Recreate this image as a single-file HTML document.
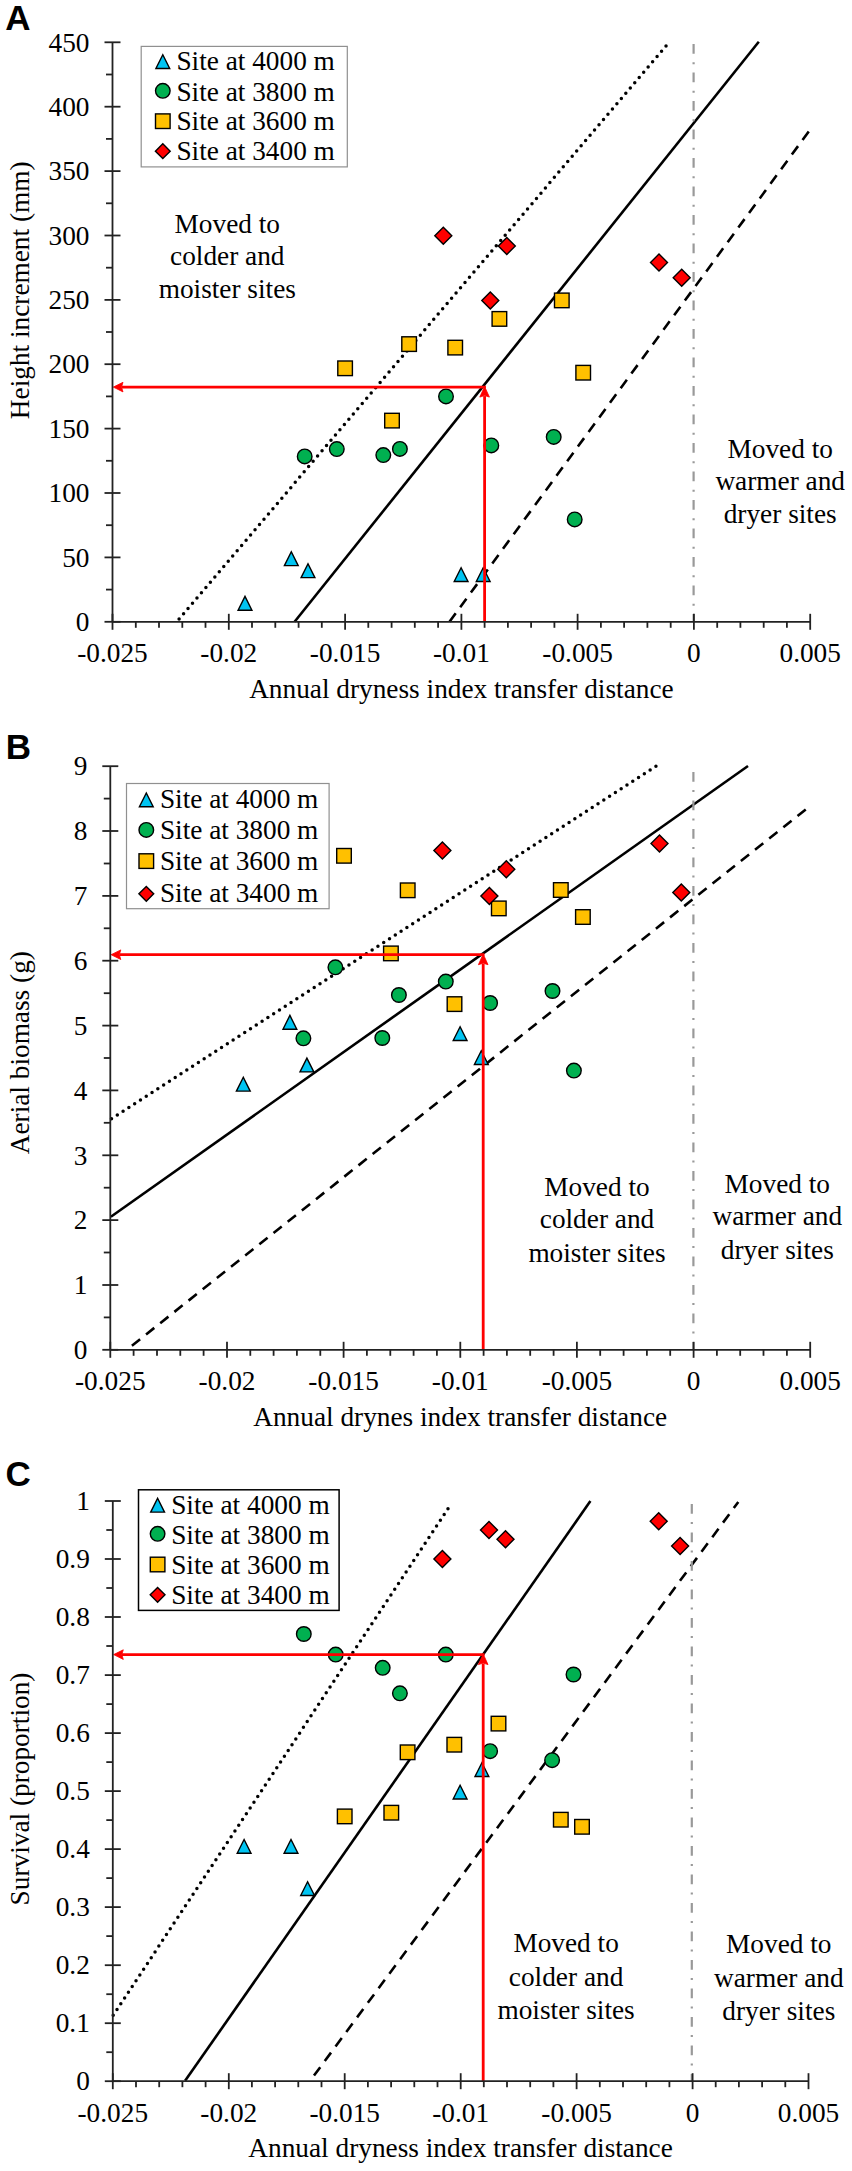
<!DOCTYPE html>
<html><head><meta charset="utf-8"><title>Figure</title>
<style>html,body{margin:0;padding:0;background:#fff;} svg{display:block;} text{fill:#000;}</style>
</head><body>
<svg width="852" height="2171" viewBox="0 0 852 2171"><line x1="179.1" y1="619.1" x2="669.5" y2="41.8" stroke="#000" stroke-width="3.5" stroke-linecap="round" stroke-dasharray="0 6.9"/>
<line x1="294.6" y1="621.8" x2="758.8" y2="41.8" stroke="#000" stroke-width="2.6"/>
<line x1="449.5" y1="621.8" x2="809.5" y2="130.5" stroke="#000" stroke-width="2.6" stroke-dasharray="10.5 7.6"/>
<line x1="693.6" y1="44.1" x2="693.6" y2="621.8" stroke="#999" stroke-width="2.2" stroke-dasharray="9.7 8.4 2 8.4"/>
<path d="M245.0,596.4 L251.9,610.2 L238.1,610.2 Z" fill="#00C4F2" stroke="#000" stroke-width="1.4"/>
<path d="M291.3,551.8 L298.2,565.6 L284.4,565.6 Z" fill="#00C4F2" stroke="#000" stroke-width="1.4"/>
<path d="M308.0,563.8 L314.9,577.6 L301.1,577.6 Z" fill="#00C4F2" stroke="#000" stroke-width="1.4"/>
<path d="M461.1,567.7 L468.0,581.5 L454.2,581.5 Z" fill="#00C4F2" stroke="#000" stroke-width="1.4"/>
<path d="M483.2,567.7 L490.1,581.5 L476.3,581.5 Z" fill="#00C4F2" stroke="#000" stroke-width="1.4"/>
<circle cx="304.7" cy="456.4" r="7.3" fill="#00B050" stroke="#000" stroke-width="1.4"/>
<circle cx="336.8" cy="449.1" r="7.3" fill="#00B050" stroke="#000" stroke-width="1.4"/>
<circle cx="383.3" cy="455.1" r="7.3" fill="#00B050" stroke="#000" stroke-width="1.4"/>
<circle cx="399.9" cy="448.9" r="7.3" fill="#00B050" stroke="#000" stroke-width="1.4"/>
<circle cx="446.0" cy="396.4" r="7.3" fill="#00B050" stroke="#000" stroke-width="1.4"/>
<circle cx="491.3" cy="445.4" r="7.3" fill="#00B050" stroke="#000" stroke-width="1.4"/>
<circle cx="553.7" cy="436.9" r="7.3" fill="#00B050" stroke="#000" stroke-width="1.4"/>
<circle cx="574.7" cy="519.4" r="7.3" fill="#00B050" stroke="#000" stroke-width="1.4"/>
<rect x="337.8" y="361.0" width="14.6" height="14.6" fill="#FFC000" stroke="#000" stroke-width="1.4"/>
<rect x="384.7" y="413.3" width="14.6" height="14.6" fill="#FFC000" stroke="#000" stroke-width="1.4"/>
<rect x="401.8" y="336.8" width="14.6" height="14.6" fill="#FFC000" stroke="#000" stroke-width="1.4"/>
<rect x="447.9" y="340.3" width="14.6" height="14.6" fill="#FFC000" stroke="#000" stroke-width="1.4"/>
<rect x="492.1" y="311.6" width="14.6" height="14.6" fill="#FFC000" stroke="#000" stroke-width="1.4"/>
<rect x="554.5" y="293.1" width="14.6" height="14.6" fill="#FFC000" stroke="#000" stroke-width="1.4"/>
<rect x="575.9" y="365.4" width="14.6" height="14.6" fill="#FFC000" stroke="#000" stroke-width="1.4"/>
<path d="M443.3,227.2 L451.8,235.7 L443.3,244.2 L434.8,235.7 Z" fill="#FF0000" stroke="#000" stroke-width="1.4"/>
<path d="M490.3,291.9 L498.8,300.4 L490.3,308.9 L481.8,300.4 Z" fill="#FF0000" stroke="#000" stroke-width="1.4"/>
<path d="M506.8,237.5 L515.3,246.0 L506.8,254.5 L498.3,246.0 Z" fill="#FF0000" stroke="#000" stroke-width="1.4"/>
<path d="M659.0,254.0 L667.5,262.5 L659.0,271.0 L650.5,262.5 Z" fill="#FF0000" stroke="#000" stroke-width="1.4"/>
<path d="M681.7,269.2 L690.2,277.7 L681.7,286.2 L673.2,277.7 Z" fill="#FF0000" stroke="#000" stroke-width="1.4"/>
<line x1="121.5" y1="387.1" x2="485.90000000000003" y2="387.1" stroke="#FF0000" stroke-width="2.8"/>
<path d="M113.3,387.1 L123.0,382.3 L121.5,387.1 L123.0,391.90000000000003 Z" fill="#FF0000" stroke="#FF0000" stroke-width="0.8"/>
<line x1="484.6" y1="621.8" x2="484.6" y2="396.1" stroke="#FF0000" stroke-width="2.8"/>
<path d="M484.6,386.5 L489.40000000000003,397.1 L484.6,395.6 L479.8,397.1 Z" fill="#FF0000" stroke="#FF0000" stroke-width="0.8"/>
<line x1="112.5" y1="42.3" x2="112.5" y2="621.8" stroke="#222" stroke-width="1.8"/>
<line x1="112.5" y1="621.8" x2="810.2" y2="621.8" stroke="#222" stroke-width="1.8"/>
<line x1="104.5" y1="621.8" x2="120.5" y2="621.8" stroke="#222" stroke-width="1.8"/>
<text x="89.5" y="631.0" font-family='"Liberation Serif", serif' font-size="27.3" font-weight="normal" text-anchor="end" >0</text>
<line x1="106.0" y1="589.6" x2="112.5" y2="589.6" stroke="#222" stroke-width="1.8"/>
<line x1="104.5" y1="557.4" x2="120.5" y2="557.4" stroke="#222" stroke-width="1.8"/>
<text x="89.5" y="566.6" font-family='"Liberation Serif", serif' font-size="27.3" font-weight="normal" text-anchor="end" >50</text>
<line x1="106.0" y1="525.2" x2="112.5" y2="525.2" stroke="#222" stroke-width="1.8"/>
<line x1="104.5" y1="493.0" x2="120.5" y2="493.0" stroke="#222" stroke-width="1.8"/>
<text x="89.5" y="502.2" font-family='"Liberation Serif", serif' font-size="27.3" font-weight="normal" text-anchor="end" >100</text>
<line x1="106.0" y1="460.8" x2="112.5" y2="460.8" stroke="#222" stroke-width="1.8"/>
<line x1="104.5" y1="428.6" x2="120.5" y2="428.6" stroke="#222" stroke-width="1.8"/>
<text x="89.5" y="437.8" font-family='"Liberation Serif", serif' font-size="27.3" font-weight="normal" text-anchor="end" >150</text>
<line x1="106.0" y1="396.4" x2="112.5" y2="396.4" stroke="#222" stroke-width="1.8"/>
<line x1="104.5" y1="364.2" x2="120.5" y2="364.2" stroke="#222" stroke-width="1.8"/>
<text x="89.5" y="373.4" font-family='"Liberation Serif", serif' font-size="27.3" font-weight="normal" text-anchor="end" >200</text>
<line x1="106.0" y1="332.0" x2="112.5" y2="332.0" stroke="#222" stroke-width="1.8"/>
<line x1="104.5" y1="299.9" x2="120.5" y2="299.9" stroke="#222" stroke-width="1.8"/>
<text x="89.5" y="309.1" font-family='"Liberation Serif", serif' font-size="27.3" font-weight="normal" text-anchor="end" >250</text>
<line x1="106.0" y1="267.7" x2="112.5" y2="267.7" stroke="#222" stroke-width="1.8"/>
<line x1="104.5" y1="235.5" x2="120.5" y2="235.5" stroke="#222" stroke-width="1.8"/>
<text x="89.5" y="244.7" font-family='"Liberation Serif", serif' font-size="27.3" font-weight="normal" text-anchor="end" >300</text>
<line x1="106.0" y1="203.3" x2="112.5" y2="203.3" stroke="#222" stroke-width="1.8"/>
<line x1="104.5" y1="171.1" x2="120.5" y2="171.1" stroke="#222" stroke-width="1.8"/>
<text x="89.5" y="180.3" font-family='"Liberation Serif", serif' font-size="27.3" font-weight="normal" text-anchor="end" >350</text>
<line x1="106.0" y1="138.9" x2="112.5" y2="138.9" stroke="#222" stroke-width="1.8"/>
<line x1="104.5" y1="106.7" x2="120.5" y2="106.7" stroke="#222" stroke-width="1.8"/>
<text x="89.5" y="115.9" font-family='"Liberation Serif", serif' font-size="27.3" font-weight="normal" text-anchor="end" >400</text>
<line x1="106.0" y1="74.5" x2="112.5" y2="74.5" stroke="#222" stroke-width="1.8"/>
<line x1="104.5" y1="42.3" x2="120.5" y2="42.3" stroke="#222" stroke-width="1.8"/>
<text x="89.5" y="51.5" font-family='"Liberation Serif", serif' font-size="27.3" font-weight="normal" text-anchor="end" >450</text>
<line x1="112.5" y1="613.8" x2="112.5" y2="629.8" stroke="#222" stroke-width="1.8"/>
<text x="112.5" y="662.3" font-family='"Liberation Serif", serif' font-size="27.3" font-weight="normal" text-anchor="middle" >-0.025</text>
<line x1="135.8" y1="621.8" x2="135.8" y2="627.8" stroke="#222" stroke-width="1.8"/>
<line x1="159.0" y1="621.8" x2="159.0" y2="627.8" stroke="#222" stroke-width="1.8"/>
<line x1="182.3" y1="621.8" x2="182.3" y2="627.8" stroke="#222" stroke-width="1.8"/>
<line x1="205.5" y1="621.8" x2="205.5" y2="627.8" stroke="#222" stroke-width="1.8"/>
<line x1="228.8" y1="613.8" x2="228.8" y2="629.8" stroke="#222" stroke-width="1.8"/>
<text x="228.8" y="662.3" font-family='"Liberation Serif", serif' font-size="27.3" font-weight="normal" text-anchor="middle" >-0.02</text>
<line x1="252.0" y1="621.8" x2="252.0" y2="627.8" stroke="#222" stroke-width="1.8"/>
<line x1="275.3" y1="621.8" x2="275.3" y2="627.8" stroke="#222" stroke-width="1.8"/>
<line x1="298.6" y1="621.8" x2="298.6" y2="627.8" stroke="#222" stroke-width="1.8"/>
<line x1="321.8" y1="621.8" x2="321.8" y2="627.8" stroke="#222" stroke-width="1.8"/>
<line x1="345.1" y1="613.8" x2="345.1" y2="629.8" stroke="#222" stroke-width="1.8"/>
<text x="345.1" y="662.3" font-family='"Liberation Serif", serif' font-size="27.3" font-weight="normal" text-anchor="middle" >-0.015</text>
<line x1="368.3" y1="621.8" x2="368.3" y2="627.8" stroke="#222" stroke-width="1.8"/>
<line x1="391.6" y1="621.8" x2="391.6" y2="627.8" stroke="#222" stroke-width="1.8"/>
<line x1="414.8" y1="621.8" x2="414.8" y2="627.8" stroke="#222" stroke-width="1.8"/>
<line x1="438.1" y1="621.8" x2="438.1" y2="627.8" stroke="#222" stroke-width="1.8"/>
<line x1="461.4" y1="613.8" x2="461.4" y2="629.8" stroke="#222" stroke-width="1.8"/>
<text x="461.4" y="662.3" font-family='"Liberation Serif", serif' font-size="27.3" font-weight="normal" text-anchor="middle" >-0.01</text>
<line x1="484.6" y1="621.8" x2="484.6" y2="627.8" stroke="#222" stroke-width="1.8"/>
<line x1="507.9" y1="621.8" x2="507.9" y2="627.8" stroke="#222" stroke-width="1.8"/>
<line x1="531.1" y1="621.8" x2="531.1" y2="627.8" stroke="#222" stroke-width="1.8"/>
<line x1="554.4" y1="621.8" x2="554.4" y2="627.8" stroke="#222" stroke-width="1.8"/>
<line x1="577.6" y1="613.8" x2="577.6" y2="629.8" stroke="#222" stroke-width="1.8"/>
<text x="577.6" y="662.3" font-family='"Liberation Serif", serif' font-size="27.3" font-weight="normal" text-anchor="middle" >-0.005</text>
<line x1="600.9" y1="621.8" x2="600.9" y2="627.8" stroke="#222" stroke-width="1.8"/>
<line x1="624.1" y1="621.8" x2="624.1" y2="627.8" stroke="#222" stroke-width="1.8"/>
<line x1="647.4" y1="621.8" x2="647.4" y2="627.8" stroke="#222" stroke-width="1.8"/>
<line x1="670.7" y1="621.8" x2="670.7" y2="627.8" stroke="#222" stroke-width="1.8"/>
<line x1="693.9" y1="613.8" x2="693.9" y2="629.8" stroke="#222" stroke-width="1.8"/>
<text x="693.9" y="662.3" font-family='"Liberation Serif", serif' font-size="27.3" font-weight="normal" text-anchor="middle" >0</text>
<line x1="717.2" y1="621.8" x2="717.2" y2="627.8" stroke="#222" stroke-width="1.8"/>
<line x1="740.4" y1="621.8" x2="740.4" y2="627.8" stroke="#222" stroke-width="1.8"/>
<line x1="763.7" y1="621.8" x2="763.7" y2="627.8" stroke="#222" stroke-width="1.8"/>
<line x1="786.9" y1="621.8" x2="786.9" y2="627.8" stroke="#222" stroke-width="1.8"/>
<line x1="810.2" y1="613.8" x2="810.2" y2="629.8" stroke="#222" stroke-width="1.8"/>
<text x="810.2" y="662.3" font-family='"Liberation Serif", serif' font-size="27.3" font-weight="normal" text-anchor="middle" >0.005</text>
<text x="461.4" y="697.8" font-family='"Liberation Serif", serif' font-size="27.3" font-weight="normal" text-anchor="middle" >Annual dryness index transfer distance</text>
<text x="0" y="0" transform="translate(29.2,290.3) rotate(-90)" font-family='"Liberation Serif", serif' font-size="27.3" text-anchor="middle">Height increment (mm)</text>
<text x="5.2" y="29.8" font-family='"Liberation Sans", sans-serif' font-size="35" font-weight="bold" text-anchor="start" >A</text>
<rect x="141.2" y="46.4" width="206.10000000000002" height="120.5" fill="#fff" stroke="#909090" stroke-width="1.2"/>
<path d="M162.8,54.7 L169.7,68.5 L155.9,68.5 Z" fill="#00C4F2" stroke="#000" stroke-width="1.4"/>
<text x="176.4" y="70.4" font-family='"Liberation Serif", serif' font-size="27.3" font-weight="normal" text-anchor="start" >Site at 4000 m</text>
<circle cx="162.8" cy="90.8" r="7.3" fill="#00B050" stroke="#000" stroke-width="1.4"/>
<text x="176.4" y="100.9" font-family='"Liberation Serif", serif' font-size="27.3" font-weight="normal" text-anchor="start" >Site at 3800 m</text>
<rect x="155.5" y="113.9" width="14.6" height="14.6" fill="#FFC000" stroke="#000" stroke-width="1.4"/>
<text x="176.4" y="130.4" font-family='"Liberation Serif", serif' font-size="27.3" font-weight="normal" text-anchor="start" >Site at 3600 m</text>
<path d="M162.8,143.8 L170.2,151.2 L162.8,158.6 L155.4,151.2 Z" fill="#FF0000" stroke="#000" stroke-width="1.4"/>
<text x="176.4" y="159.9" font-family='"Liberation Serif", serif' font-size="27.3" font-weight="normal" text-anchor="start" >Site at 3400 m</text>
<text x="227.3" y="232.6" font-family='"Liberation Serif", serif' font-size="27.3" font-weight="normal" text-anchor="middle" >Moved to</text>
<text x="227.3" y="264.8" font-family='"Liberation Serif", serif' font-size="27.3" font-weight="normal" text-anchor="middle" >colder and</text>
<text x="227.3" y="298.2" font-family='"Liberation Serif", serif' font-size="27.3" font-weight="normal" text-anchor="middle" >moister sites</text>
<text x="780.2" y="457.7" font-family='"Liberation Serif", serif' font-size="27.3" font-weight="normal" text-anchor="middle" >Moved to</text>
<text x="780.2" y="489.8" font-family='"Liberation Serif", serif' font-size="27.3" font-weight="normal" text-anchor="middle" >warmer and</text>
<text x="780.2" y="523.4" font-family='"Liberation Serif", serif' font-size="27.3" font-weight="normal" text-anchor="middle" >dryer sites</text>
<line x1="111.5" y1="1118.7" x2="656.8" y2="765.6" stroke="#000" stroke-width="3.5" stroke-linecap="round" stroke-dasharray="0 6.9"/>
<line x1="110.9" y1="1216.7" x2="748" y2="766" stroke="#000" stroke-width="2.6"/>
<line x1="131.9" y1="1345.7" x2="811.4" y2="804.9" stroke="#000" stroke-width="2.6" stroke-dasharray="10.5 7.6"/>
<line x1="693.4" y1="772" x2="693.4" y2="1349.8" stroke="#999" stroke-width="2.2" stroke-dasharray="9.7 8.4 2 8.4"/>
<path d="M243.3,1077.3 L250.2,1091.1 L236.4,1091.1 Z" fill="#00C4F2" stroke="#000" stroke-width="1.4"/>
<path d="M289.9,1015.4 L296.8,1029.2 L283.0,1029.2 Z" fill="#00C4F2" stroke="#000" stroke-width="1.4"/>
<path d="M306.9,1058.1 L313.8,1071.9 L300.0,1071.9 Z" fill="#00C4F2" stroke="#000" stroke-width="1.4"/>
<path d="M460.1,1026.7 L467.0,1040.5 L453.2,1040.5 Z" fill="#00C4F2" stroke="#000" stroke-width="1.4"/>
<path d="M481.3,1050.7 L488.2,1064.5 L474.4,1064.5 Z" fill="#00C4F2" stroke="#000" stroke-width="1.4"/>
<circle cx="303.4" cy="1038.3" r="7.3" fill="#00B050" stroke="#000" stroke-width="1.4"/>
<circle cx="335.4" cy="967.3" r="7.3" fill="#00B050" stroke="#000" stroke-width="1.4"/>
<circle cx="382.3" cy="1038.0" r="7.3" fill="#00B050" stroke="#000" stroke-width="1.4"/>
<circle cx="398.9" cy="995.0" r="7.3" fill="#00B050" stroke="#000" stroke-width="1.4"/>
<circle cx="445.8" cy="981.6" r="7.3" fill="#00B050" stroke="#000" stroke-width="1.4"/>
<circle cx="490.1" cy="1003.0" r="7.3" fill="#00B050" stroke="#000" stroke-width="1.4"/>
<circle cx="552.5" cy="991.0" r="7.3" fill="#00B050" stroke="#000" stroke-width="1.4"/>
<circle cx="573.9" cy="1070.6" r="7.3" fill="#00B050" stroke="#000" stroke-width="1.4"/>
<rect x="336.7" y="848.5" width="14.6" height="14.6" fill="#FFC000" stroke="#000" stroke-width="1.4"/>
<rect x="383.6" y="946.1" width="14.6" height="14.6" fill="#FFC000" stroke="#000" stroke-width="1.4"/>
<rect x="400.4" y="883.0" width="14.6" height="14.6" fill="#FFC000" stroke="#000" stroke-width="1.4"/>
<rect x="447.2" y="996.8" width="14.6" height="14.6" fill="#FFC000" stroke="#000" stroke-width="1.4"/>
<rect x="491.5" y="901.1" width="14.6" height="14.6" fill="#FFC000" stroke="#000" stroke-width="1.4"/>
<rect x="553.5" y="882.7" width="14.6" height="14.6" fill="#FFC000" stroke="#000" stroke-width="1.4"/>
<rect x="575.6" y="909.7" width="14.6" height="14.6" fill="#FFC000" stroke="#000" stroke-width="1.4"/>
<path d="M442.4,842.0 L450.9,850.5 L442.4,859.0 L433.9,850.5 Z" fill="#FF0000" stroke="#000" stroke-width="1.4"/>
<path d="M489.4,887.5 L497.9,896.0 L489.4,904.5 L480.9,896.0 Z" fill="#FF0000" stroke="#000" stroke-width="1.4"/>
<path d="M506.3,860.8 L514.8,869.3 L506.3,877.8 L497.8,869.3 Z" fill="#FF0000" stroke="#000" stroke-width="1.4"/>
<path d="M659.5,835.0 L668.0,843.5 L659.5,852.0 L651.0,843.5 Z" fill="#FF0000" stroke="#000" stroke-width="1.4"/>
<path d="M681.3,884.1 L689.8,892.6 L681.3,901.1 L672.8,892.6 Z" fill="#FF0000" stroke="#000" stroke-width="1.4"/>
<line x1="119.3" y1="954.7" x2="484.5" y2="954.7" stroke="#FF0000" stroke-width="2.8"/>
<path d="M111.1,954.7 L120.8,949.9000000000001 L119.3,954.7 L120.8,959.5 Z" fill="#FF0000" stroke="#FF0000" stroke-width="0.8"/>
<line x1="483.2" y1="1349.8" x2="483.2" y2="963.7" stroke="#FF0000" stroke-width="2.8"/>
<path d="M483.2,954.1 L488.0,964.7 L483.2,963.2 L478.4,964.7 Z" fill="#FF0000" stroke="#FF0000" stroke-width="0.8"/>
<line x1="110.3" y1="766.2" x2="110.3" y2="1349.8" stroke="#222" stroke-width="1.8"/>
<line x1="110.3" y1="1349.8" x2="810.2" y2="1349.8" stroke="#222" stroke-width="1.8"/>
<line x1="102.3" y1="1349.8" x2="118.3" y2="1349.8" stroke="#222" stroke-width="1.8"/>
<text x="87.3" y="1359.0" font-family='"Liberation Serif", serif' font-size="27.3" font-weight="normal" text-anchor="end" >0</text>
<line x1="103.8" y1="1317.4" x2="110.3" y2="1317.4" stroke="#222" stroke-width="1.8"/>
<line x1="102.3" y1="1285.0" x2="118.3" y2="1285.0" stroke="#222" stroke-width="1.8"/>
<text x="87.3" y="1294.2" font-family='"Liberation Serif", serif' font-size="27.3" font-weight="normal" text-anchor="end" >1</text>
<line x1="103.8" y1="1252.5" x2="110.3" y2="1252.5" stroke="#222" stroke-width="1.8"/>
<line x1="102.3" y1="1220.1" x2="118.3" y2="1220.1" stroke="#222" stroke-width="1.8"/>
<text x="87.3" y="1229.3" font-family='"Liberation Serif", serif' font-size="27.3" font-weight="normal" text-anchor="end" >2</text>
<line x1="103.8" y1="1187.7" x2="110.3" y2="1187.7" stroke="#222" stroke-width="1.8"/>
<line x1="102.3" y1="1155.3" x2="118.3" y2="1155.3" stroke="#222" stroke-width="1.8"/>
<text x="87.3" y="1164.5" font-family='"Liberation Serif", serif' font-size="27.3" font-weight="normal" text-anchor="end" >3</text>
<line x1="103.8" y1="1122.8" x2="110.3" y2="1122.8" stroke="#222" stroke-width="1.8"/>
<line x1="102.3" y1="1090.4" x2="118.3" y2="1090.4" stroke="#222" stroke-width="1.8"/>
<text x="87.3" y="1099.6" font-family='"Liberation Serif", serif' font-size="27.3" font-weight="normal" text-anchor="end" >4</text>
<line x1="103.8" y1="1058.0" x2="110.3" y2="1058.0" stroke="#222" stroke-width="1.8"/>
<line x1="102.3" y1="1025.6" x2="118.3" y2="1025.6" stroke="#222" stroke-width="1.8"/>
<text x="87.3" y="1034.8" font-family='"Liberation Serif", serif' font-size="27.3" font-weight="normal" text-anchor="end" >5</text>
<line x1="103.8" y1="993.2" x2="110.3" y2="993.2" stroke="#222" stroke-width="1.8"/>
<line x1="102.3" y1="960.7" x2="118.3" y2="960.7" stroke="#222" stroke-width="1.8"/>
<text x="87.3" y="969.9" font-family='"Liberation Serif", serif' font-size="27.3" font-weight="normal" text-anchor="end" >6</text>
<line x1="103.8" y1="928.3" x2="110.3" y2="928.3" stroke="#222" stroke-width="1.8"/>
<line x1="102.3" y1="895.9" x2="118.3" y2="895.9" stroke="#222" stroke-width="1.8"/>
<text x="87.3" y="905.1" font-family='"Liberation Serif", serif' font-size="27.3" font-weight="normal" text-anchor="end" >7</text>
<line x1="103.8" y1="863.5" x2="110.3" y2="863.5" stroke="#222" stroke-width="1.8"/>
<line x1="102.3" y1="831.0" x2="118.3" y2="831.0" stroke="#222" stroke-width="1.8"/>
<text x="87.3" y="840.2" font-family='"Liberation Serif", serif' font-size="27.3" font-weight="normal" text-anchor="end" >8</text>
<line x1="103.8" y1="798.6" x2="110.3" y2="798.6" stroke="#222" stroke-width="1.8"/>
<line x1="102.3" y1="766.2" x2="118.3" y2="766.2" stroke="#222" stroke-width="1.8"/>
<text x="87.3" y="775.4" font-family='"Liberation Serif", serif' font-size="27.3" font-weight="normal" text-anchor="end" >9</text>
<line x1="110.3" y1="1341.8" x2="110.3" y2="1357.8" stroke="#222" stroke-width="1.8"/>
<text x="110.3" y="1390.3" font-family='"Liberation Serif", serif' font-size="27.3" font-weight="normal" text-anchor="middle" >-0.025</text>
<line x1="133.6" y1="1349.8" x2="133.6" y2="1355.8" stroke="#222" stroke-width="1.8"/>
<line x1="157.0" y1="1349.8" x2="157.0" y2="1355.8" stroke="#222" stroke-width="1.8"/>
<line x1="180.3" y1="1349.8" x2="180.3" y2="1355.8" stroke="#222" stroke-width="1.8"/>
<line x1="203.6" y1="1349.8" x2="203.6" y2="1355.8" stroke="#222" stroke-width="1.8"/>
<line x1="227.0" y1="1341.8" x2="227.0" y2="1357.8" stroke="#222" stroke-width="1.8"/>
<text x="227.0" y="1390.3" font-family='"Liberation Serif", serif' font-size="27.3" font-weight="normal" text-anchor="middle" >-0.02</text>
<line x1="250.3" y1="1349.8" x2="250.3" y2="1355.8" stroke="#222" stroke-width="1.8"/>
<line x1="273.6" y1="1349.8" x2="273.6" y2="1355.8" stroke="#222" stroke-width="1.8"/>
<line x1="296.9" y1="1349.8" x2="296.9" y2="1355.8" stroke="#222" stroke-width="1.8"/>
<line x1="320.3" y1="1349.8" x2="320.3" y2="1355.8" stroke="#222" stroke-width="1.8"/>
<line x1="343.6" y1="1341.8" x2="343.6" y2="1357.8" stroke="#222" stroke-width="1.8"/>
<text x="343.6" y="1390.3" font-family='"Liberation Serif", serif' font-size="27.3" font-weight="normal" text-anchor="middle" >-0.015</text>
<line x1="366.9" y1="1349.8" x2="366.9" y2="1355.8" stroke="#222" stroke-width="1.8"/>
<line x1="390.3" y1="1349.8" x2="390.3" y2="1355.8" stroke="#222" stroke-width="1.8"/>
<line x1="413.6" y1="1349.8" x2="413.6" y2="1355.8" stroke="#222" stroke-width="1.8"/>
<line x1="436.9" y1="1349.8" x2="436.9" y2="1355.8" stroke="#222" stroke-width="1.8"/>
<line x1="460.3" y1="1341.8" x2="460.3" y2="1357.8" stroke="#222" stroke-width="1.8"/>
<text x="460.3" y="1390.3" font-family='"Liberation Serif", serif' font-size="27.3" font-weight="normal" text-anchor="middle" >-0.01</text>
<line x1="483.6" y1="1349.8" x2="483.6" y2="1355.8" stroke="#222" stroke-width="1.8"/>
<line x1="506.9" y1="1349.8" x2="506.9" y2="1355.8" stroke="#222" stroke-width="1.8"/>
<line x1="530.2" y1="1349.8" x2="530.2" y2="1355.8" stroke="#222" stroke-width="1.8"/>
<line x1="553.6" y1="1349.8" x2="553.6" y2="1355.8" stroke="#222" stroke-width="1.8"/>
<line x1="576.9" y1="1341.8" x2="576.9" y2="1357.8" stroke="#222" stroke-width="1.8"/>
<text x="576.9" y="1390.3" font-family='"Liberation Serif", serif' font-size="27.3" font-weight="normal" text-anchor="middle" >-0.005</text>
<line x1="600.2" y1="1349.8" x2="600.2" y2="1355.8" stroke="#222" stroke-width="1.8"/>
<line x1="623.6" y1="1349.8" x2="623.6" y2="1355.8" stroke="#222" stroke-width="1.8"/>
<line x1="646.9" y1="1349.8" x2="646.9" y2="1355.8" stroke="#222" stroke-width="1.8"/>
<line x1="670.2" y1="1349.8" x2="670.2" y2="1355.8" stroke="#222" stroke-width="1.8"/>
<line x1="693.6" y1="1341.8" x2="693.6" y2="1357.8" stroke="#222" stroke-width="1.8"/>
<text x="693.6" y="1390.3" font-family='"Liberation Serif", serif' font-size="27.3" font-weight="normal" text-anchor="middle" >0</text>
<line x1="716.9" y1="1349.8" x2="716.9" y2="1355.8" stroke="#222" stroke-width="1.8"/>
<line x1="740.2" y1="1349.8" x2="740.2" y2="1355.8" stroke="#222" stroke-width="1.8"/>
<line x1="763.5" y1="1349.8" x2="763.5" y2="1355.8" stroke="#222" stroke-width="1.8"/>
<line x1="786.9" y1="1349.8" x2="786.9" y2="1355.8" stroke="#222" stroke-width="1.8"/>
<line x1="810.2" y1="1341.8" x2="810.2" y2="1357.8" stroke="#222" stroke-width="1.8"/>
<text x="810.2" y="1390.3" font-family='"Liberation Serif", serif' font-size="27.3" font-weight="normal" text-anchor="middle" >0.005</text>
<text x="460.2" y="1425.8" font-family='"Liberation Serif", serif' font-size="27.3" font-weight="normal" text-anchor="middle" >Annual drynes index transfer distance</text>
<text x="0" y="0" transform="translate(29.3,1052.7) rotate(-90)" font-family='"Liberation Serif", serif' font-size="27.3" text-anchor="middle">Aerial biomass (g)</text>
<text x="5.8" y="758.7" font-family='"Liberation Sans", sans-serif' font-size="35" font-weight="bold" text-anchor="start" >B</text>
<rect x="126.5" y="783.5" width="202.60000000000002" height="125.20000000000005" fill="#fff" stroke="#909090" stroke-width="1.2"/>
<path d="M146.3,793.0 L153.2,806.8 L139.4,806.8 Z" fill="#00C4F2" stroke="#000" stroke-width="1.4"/>
<text x="159.9" y="808.0" font-family='"Liberation Serif", serif' font-size="27.3" font-weight="normal" text-anchor="start" >Site at 4000 m</text>
<circle cx="146.3" cy="829.9" r="7.3" fill="#00B050" stroke="#000" stroke-width="1.4"/>
<text x="159.9" y="839.2" font-family='"Liberation Serif", serif' font-size="27.3" font-weight="normal" text-anchor="start" >Site at 3800 m</text>
<rect x="139.0" y="853.8" width="14.6" height="14.6" fill="#FFC000" stroke="#000" stroke-width="1.4"/>
<text x="159.9" y="870.4" font-family='"Liberation Serif", serif' font-size="27.3" font-weight="normal" text-anchor="start" >Site at 3600 m</text>
<path d="M146.3,886.4 L153.7,893.8 L146.3,901.2 L138.9,893.8 Z" fill="#FF0000" stroke="#000" stroke-width="1.4"/>
<text x="159.9" y="901.6" font-family='"Liberation Serif", serif' font-size="27.3" font-weight="normal" text-anchor="start" >Site at 3400 m</text>
<text x="597.0" y="1195.9" font-family='"Liberation Serif", serif' font-size="27.3" font-weight="normal" text-anchor="middle" >Moved to</text>
<text x="597.0" y="1228.4" font-family='"Liberation Serif", serif' font-size="27.3" font-weight="normal" text-anchor="middle" >colder and</text>
<text x="597.0" y="1261.8" font-family='"Liberation Serif", serif' font-size="27.3" font-weight="normal" text-anchor="middle" >moister sites</text>
<text x="777.3" y="1193.0" font-family='"Liberation Serif", serif' font-size="27.3" font-weight="normal" text-anchor="middle" >Moved to</text>
<text x="777.3" y="1225.3" font-family='"Liberation Serif", serif' font-size="27.3" font-weight="normal" text-anchor="middle" >warmer and</text>
<text x="777.3" y="1258.8" font-family='"Liberation Serif", serif' font-size="27.3" font-weight="normal" text-anchor="middle" >dryer sites</text>
<line x1="113.2" y1="2015.2" x2="451.3" y2="1503.6" stroke="#000" stroke-width="3.5" stroke-linecap="round" stroke-dasharray="0 6.9"/>
<line x1="185.1" y1="2080.8" x2="590.4" y2="1501.1" stroke="#000" stroke-width="2.6"/>
<line x1="314" y1="2075.6" x2="738.3" y2="1502" stroke="#000" stroke-width="2.6" stroke-dasharray="10.5 7.6"/>
<line x1="691.8" y1="1504" x2="691.8" y2="2081.2" stroke="#999" stroke-width="2.2" stroke-dasharray="9.7 8.4 2 8.4"/>
<path d="M244.1,1839.5 L251.0,1853.3 L237.2,1853.3 Z" fill="#00C4F2" stroke="#000" stroke-width="1.4"/>
<path d="M291.0,1839.5 L297.9,1853.3 L284.1,1853.3 Z" fill="#00C4F2" stroke="#000" stroke-width="1.4"/>
<path d="M307.6,1881.7 L314.5,1895.5 L300.7,1895.5 Z" fill="#00C4F2" stroke="#000" stroke-width="1.4"/>
<path d="M460.1,1785.2 L467.0,1799.0 L453.2,1799.0 Z" fill="#00C4F2" stroke="#000" stroke-width="1.4"/>
<path d="M481.9,1762.7 L488.8,1776.5 L475.0,1776.5 Z" fill="#00C4F2" stroke="#000" stroke-width="1.4"/>
<circle cx="303.8" cy="1634.0" r="7.3" fill="#00B050" stroke="#000" stroke-width="1.4"/>
<circle cx="335.7" cy="1654.6" r="7.3" fill="#00B050" stroke="#000" stroke-width="1.4"/>
<circle cx="382.7" cy="1667.8" r="7.3" fill="#00B050" stroke="#000" stroke-width="1.4"/>
<circle cx="399.9" cy="1693.3" r="7.3" fill="#00B050" stroke="#000" stroke-width="1.4"/>
<circle cx="445.8" cy="1654.6" r="7.3" fill="#00B050" stroke="#000" stroke-width="1.4"/>
<circle cx="490.1" cy="1751.2" r="7.3" fill="#00B050" stroke="#000" stroke-width="1.4"/>
<circle cx="552.1" cy="1760.2" r="7.3" fill="#00B050" stroke="#000" stroke-width="1.4"/>
<circle cx="573.5" cy="1674.5" r="7.3" fill="#00B050" stroke="#000" stroke-width="1.4"/>
<rect x="337.4" y="1809.1" width="14.6" height="14.6" fill="#FFC000" stroke="#000" stroke-width="1.4"/>
<rect x="384.0" y="1805.4" width="14.6" height="14.6" fill="#FFC000" stroke="#000" stroke-width="1.4"/>
<rect x="400.3" y="1745.0" width="14.6" height="14.6" fill="#FFC000" stroke="#000" stroke-width="1.4"/>
<rect x="447.0" y="1737.4" width="14.6" height="14.6" fill="#FFC000" stroke="#000" stroke-width="1.4"/>
<rect x="491.2" y="1716.3" width="14.6" height="14.6" fill="#FFC000" stroke="#000" stroke-width="1.4"/>
<rect x="553.5" y="1812.4" width="14.6" height="14.6" fill="#FFC000" stroke="#000" stroke-width="1.4"/>
<rect x="574.7" y="1819.5" width="14.6" height="14.6" fill="#FFC000" stroke="#000" stroke-width="1.4"/>
<path d="M442.4,1550.4 L450.9,1558.9 L442.4,1567.4 L433.9,1558.9 Z" fill="#FF0000" stroke="#000" stroke-width="1.4"/>
<path d="M489.0,1521.5 L497.5,1530.0 L489.0,1538.5 L480.5,1530.0 Z" fill="#FF0000" stroke="#000" stroke-width="1.4"/>
<path d="M505.5,1530.8 L514.0,1539.3 L505.5,1547.8 L497.0,1539.3 Z" fill="#FF0000" stroke="#000" stroke-width="1.4"/>
<path d="M658.7,1512.7 L667.2,1521.2 L658.7,1529.7 L650.2,1521.2 Z" fill="#FF0000" stroke="#000" stroke-width="1.4"/>
<path d="M680.1,1537.5 L688.6,1546.0 L680.1,1554.5 L671.6,1546.0 Z" fill="#FF0000" stroke="#000" stroke-width="1.4"/>
<line x1="121.8" y1="1654.6" x2="484.5" y2="1654.6" stroke="#FF0000" stroke-width="2.8"/>
<path d="M113.6,1654.6 L123.3,1649.8 L121.8,1654.6 L123.3,1659.3999999999999 Z" fill="#FF0000" stroke="#FF0000" stroke-width="0.8"/>
<line x1="483.2" y1="2081.2" x2="483.2" y2="1663.6" stroke="#FF0000" stroke-width="2.8"/>
<path d="M483.2,1654.0 L488.0,1664.6 L483.2,1663.1 L478.4,1664.6 Z" fill="#FF0000" stroke="#FF0000" stroke-width="0.8"/>
<line x1="112.8" y1="1501" x2="112.8" y2="2081.2" stroke="#222" stroke-width="1.8"/>
<line x1="112.8" y1="2081.2" x2="808.5" y2="2081.2" stroke="#222" stroke-width="1.8"/>
<line x1="104.8" y1="2081.2" x2="120.8" y2="2081.2" stroke="#222" stroke-width="1.8"/>
<text x="89.8" y="2090.4" font-family='"Liberation Serif", serif' font-size="27.3" font-weight="normal" text-anchor="end" >0</text>
<line x1="106.3" y1="2052.2" x2="112.8" y2="2052.2" stroke="#222" stroke-width="1.8"/>
<line x1="104.8" y1="2023.2" x2="120.8" y2="2023.2" stroke="#222" stroke-width="1.8"/>
<text x="89.8" y="2032.4" font-family='"Liberation Serif", serif' font-size="27.3" font-weight="normal" text-anchor="end" >0.1</text>
<line x1="106.3" y1="1994.2" x2="112.8" y2="1994.2" stroke="#222" stroke-width="1.8"/>
<line x1="104.8" y1="1965.2" x2="120.8" y2="1965.2" stroke="#222" stroke-width="1.8"/>
<text x="89.8" y="1974.4" font-family='"Liberation Serif", serif' font-size="27.3" font-weight="normal" text-anchor="end" >0.2</text>
<line x1="106.3" y1="1936.1" x2="112.8" y2="1936.1" stroke="#222" stroke-width="1.8"/>
<line x1="104.8" y1="1907.1" x2="120.8" y2="1907.1" stroke="#222" stroke-width="1.8"/>
<text x="89.8" y="1916.3" font-family='"Liberation Serif", serif' font-size="27.3" font-weight="normal" text-anchor="end" >0.3</text>
<line x1="106.3" y1="1878.1" x2="112.8" y2="1878.1" stroke="#222" stroke-width="1.8"/>
<line x1="104.8" y1="1849.1" x2="120.8" y2="1849.1" stroke="#222" stroke-width="1.8"/>
<text x="89.8" y="1858.3" font-family='"Liberation Serif", serif' font-size="27.3" font-weight="normal" text-anchor="end" >0.4</text>
<line x1="106.3" y1="1820.1" x2="112.8" y2="1820.1" stroke="#222" stroke-width="1.8"/>
<line x1="104.8" y1="1791.1" x2="120.8" y2="1791.1" stroke="#222" stroke-width="1.8"/>
<text x="89.8" y="1800.3" font-family='"Liberation Serif", serif' font-size="27.3" font-weight="normal" text-anchor="end" >0.5</text>
<line x1="106.3" y1="1762.1" x2="112.8" y2="1762.1" stroke="#222" stroke-width="1.8"/>
<line x1="104.8" y1="1733.1" x2="120.8" y2="1733.1" stroke="#222" stroke-width="1.8"/>
<text x="89.8" y="1742.3" font-family='"Liberation Serif", serif' font-size="27.3" font-weight="normal" text-anchor="end" >0.6</text>
<line x1="106.3" y1="1704.1" x2="112.8" y2="1704.1" stroke="#222" stroke-width="1.8"/>
<line x1="104.8" y1="1675.1" x2="120.8" y2="1675.1" stroke="#222" stroke-width="1.8"/>
<text x="89.8" y="1684.3" font-family='"Liberation Serif", serif' font-size="27.3" font-weight="normal" text-anchor="end" >0.7</text>
<line x1="106.3" y1="1646.0" x2="112.8" y2="1646.0" stroke="#222" stroke-width="1.8"/>
<line x1="104.8" y1="1617.0" x2="120.8" y2="1617.0" stroke="#222" stroke-width="1.8"/>
<text x="89.8" y="1626.2" font-family='"Liberation Serif", serif' font-size="27.3" font-weight="normal" text-anchor="end" >0.8</text>
<line x1="106.3" y1="1588.0" x2="112.8" y2="1588.0" stroke="#222" stroke-width="1.8"/>
<line x1="104.8" y1="1559.0" x2="120.8" y2="1559.0" stroke="#222" stroke-width="1.8"/>
<text x="89.8" y="1568.2" font-family='"Liberation Serif", serif' font-size="27.3" font-weight="normal" text-anchor="end" >0.9</text>
<line x1="106.3" y1="1530.0" x2="112.8" y2="1530.0" stroke="#222" stroke-width="1.8"/>
<line x1="104.8" y1="1501.0" x2="120.8" y2="1501.0" stroke="#222" stroke-width="1.8"/>
<text x="89.8" y="1510.2" font-family='"Liberation Serif", serif' font-size="27.3" font-weight="normal" text-anchor="end" >1</text>
<line x1="112.8" y1="2073.2" x2="112.8" y2="2089.2" stroke="#222" stroke-width="1.8"/>
<text x="112.8" y="2121.7" font-family='"Liberation Serif", serif' font-size="27.3" font-weight="normal" text-anchor="middle" >-0.025</text>
<line x1="136.0" y1="2081.2" x2="136.0" y2="2087.2" stroke="#222" stroke-width="1.8"/>
<line x1="159.2" y1="2081.2" x2="159.2" y2="2087.2" stroke="#222" stroke-width="1.8"/>
<line x1="182.4" y1="2081.2" x2="182.4" y2="2087.2" stroke="#222" stroke-width="1.8"/>
<line x1="205.6" y1="2081.2" x2="205.6" y2="2087.2" stroke="#222" stroke-width="1.8"/>
<line x1="228.8" y1="2073.2" x2="228.8" y2="2089.2" stroke="#222" stroke-width="1.8"/>
<text x="228.8" y="2121.7" font-family='"Liberation Serif", serif' font-size="27.3" font-weight="normal" text-anchor="middle" >-0.02</text>
<line x1="251.9" y1="2081.2" x2="251.9" y2="2087.2" stroke="#222" stroke-width="1.8"/>
<line x1="275.1" y1="2081.2" x2="275.1" y2="2087.2" stroke="#222" stroke-width="1.8"/>
<line x1="298.3" y1="2081.2" x2="298.3" y2="2087.2" stroke="#222" stroke-width="1.8"/>
<line x1="321.5" y1="2081.2" x2="321.5" y2="2087.2" stroke="#222" stroke-width="1.8"/>
<line x1="344.7" y1="2073.2" x2="344.7" y2="2089.2" stroke="#222" stroke-width="1.8"/>
<text x="344.7" y="2121.7" font-family='"Liberation Serif", serif' font-size="27.3" font-weight="normal" text-anchor="middle" >-0.015</text>
<line x1="367.9" y1="2081.2" x2="367.9" y2="2087.2" stroke="#222" stroke-width="1.8"/>
<line x1="391.1" y1="2081.2" x2="391.1" y2="2087.2" stroke="#222" stroke-width="1.8"/>
<line x1="414.3" y1="2081.2" x2="414.3" y2="2087.2" stroke="#222" stroke-width="1.8"/>
<line x1="437.5" y1="2081.2" x2="437.5" y2="2087.2" stroke="#222" stroke-width="1.8"/>
<line x1="460.7" y1="2073.2" x2="460.7" y2="2089.2" stroke="#222" stroke-width="1.8"/>
<text x="460.7" y="2121.7" font-family='"Liberation Serif", serif' font-size="27.3" font-weight="normal" text-anchor="middle" >-0.01</text>
<line x1="483.8" y1="2081.2" x2="483.8" y2="2087.2" stroke="#222" stroke-width="1.8"/>
<line x1="507.0" y1="2081.2" x2="507.0" y2="2087.2" stroke="#222" stroke-width="1.8"/>
<line x1="530.2" y1="2081.2" x2="530.2" y2="2087.2" stroke="#222" stroke-width="1.8"/>
<line x1="553.4" y1="2081.2" x2="553.4" y2="2087.2" stroke="#222" stroke-width="1.8"/>
<line x1="576.6" y1="2073.2" x2="576.6" y2="2089.2" stroke="#222" stroke-width="1.8"/>
<text x="576.6" y="2121.7" font-family='"Liberation Serif", serif' font-size="27.3" font-weight="normal" text-anchor="middle" >-0.005</text>
<line x1="599.8" y1="2081.2" x2="599.8" y2="2087.2" stroke="#222" stroke-width="1.8"/>
<line x1="623.0" y1="2081.2" x2="623.0" y2="2087.2" stroke="#222" stroke-width="1.8"/>
<line x1="646.2" y1="2081.2" x2="646.2" y2="2087.2" stroke="#222" stroke-width="1.8"/>
<line x1="669.4" y1="2081.2" x2="669.4" y2="2087.2" stroke="#222" stroke-width="1.8"/>
<line x1="692.6" y1="2073.2" x2="692.6" y2="2089.2" stroke="#222" stroke-width="1.8"/>
<text x="692.6" y="2121.7" font-family='"Liberation Serif", serif' font-size="27.3" font-weight="normal" text-anchor="middle" >0</text>
<line x1="715.7" y1="2081.2" x2="715.7" y2="2087.2" stroke="#222" stroke-width="1.8"/>
<line x1="738.9" y1="2081.2" x2="738.9" y2="2087.2" stroke="#222" stroke-width="1.8"/>
<line x1="762.1" y1="2081.2" x2="762.1" y2="2087.2" stroke="#222" stroke-width="1.8"/>
<line x1="785.3" y1="2081.2" x2="785.3" y2="2087.2" stroke="#222" stroke-width="1.8"/>
<line x1="808.5" y1="2073.2" x2="808.5" y2="2089.2" stroke="#222" stroke-width="1.8"/>
<text x="808.5" y="2121.7" font-family='"Liberation Serif", serif' font-size="27.3" font-weight="normal" text-anchor="middle" >0.005</text>
<text x="460.6" y="2157.2" font-family='"Liberation Serif", serif' font-size="27.3" font-weight="normal" text-anchor="middle" >Annual dryness index transfer distance</text>
<text x="0" y="0" transform="translate(29.3,1789) rotate(-90)" font-family='"Liberation Serif", serif' font-size="27.3" text-anchor="middle">Survival (proportion)</text>
<text x="5.4" y="1485.5" font-family='"Liberation Sans", sans-serif' font-size="35" font-weight="bold" text-anchor="start" >C</text>
<rect x="138.5" y="1489.8" width="200.60000000000002" height="120.60000000000014" fill="#fff" stroke="#000" stroke-width="1.5"/>
<path d="M157.6,1498.3 L164.5,1512.1 L150.7,1512.1 Z" fill="#00C4F2" stroke="#000" stroke-width="1.4"/>
<text x="171.2" y="1513.5" font-family='"Liberation Serif", serif' font-size="27.3" font-weight="normal" text-anchor="start" >Site at 4000 m</text>
<circle cx="157.6" cy="1533.8" r="7.3" fill="#00B050" stroke="#000" stroke-width="1.4"/>
<text x="171.2" y="1543.6" font-family='"Liberation Serif", serif' font-size="27.3" font-weight="normal" text-anchor="start" >Site at 3800 m</text>
<rect x="150.3" y="1557.2" width="14.6" height="14.6" fill="#FFC000" stroke="#000" stroke-width="1.4"/>
<text x="171.2" y="1573.7" font-family='"Liberation Serif", serif' font-size="27.3" font-weight="normal" text-anchor="start" >Site at 3600 m</text>
<path d="M157.6,1587.4 L165.0,1594.8 L157.6,1602.2 L150.2,1594.8 Z" fill="#FF0000" stroke="#000" stroke-width="1.4"/>
<text x="171.2" y="1603.8" font-family='"Liberation Serif", serif' font-size="27.3" font-weight="normal" text-anchor="start" >Site at 3400 m</text>
<text x="566.1" y="1952.3" font-family='"Liberation Serif", serif' font-size="27.3" font-weight="normal" text-anchor="middle" >Moved to</text>
<text x="566.1" y="1985.7" font-family='"Liberation Serif", serif' font-size="27.3" font-weight="normal" text-anchor="middle" >colder and</text>
<text x="566.1" y="2019.3" font-family='"Liberation Serif", serif' font-size="27.3" font-weight="normal" text-anchor="middle" >moister sites</text>
<text x="778.8" y="1953.2" font-family='"Liberation Serif", serif' font-size="27.3" font-weight="normal" text-anchor="middle" >Moved to</text>
<text x="778.8" y="1986.5" font-family='"Liberation Serif", serif' font-size="27.3" font-weight="normal" text-anchor="middle" >warmer and</text>
<text x="778.8" y="2019.7" font-family='"Liberation Serif", serif' font-size="27.3" font-weight="normal" text-anchor="middle" >dryer sites</text></svg>
</body></html>
